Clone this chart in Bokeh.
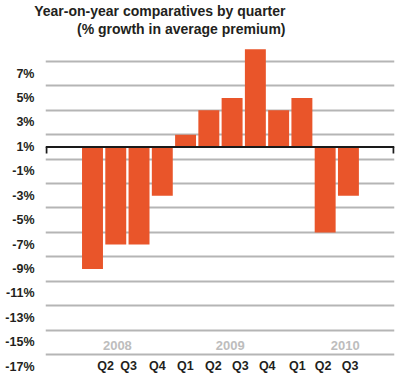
from bokeh.plotting import figure
from bokeh.models import FixedTicker, Span, Title, ColumnDataSource, Range1d
from bokeh.core.properties import value
from bokeh.embed import file_html
from bokeh.resources import INLINE

# ---- data ----
bar_values = [-9, -7, -7, -3, 2, 4, 5, 9, 4, 5, -6, -3]   # % growth (axis units)
baseline = 1
quarter_labels = ["Q2", "Q3", "Q4", "Q1", "Q2", "Q3", "Q4", "Q1", "Q2", "Q3"]
year_labels = ["2008", "2009", "2010"]
y_tick_values = [7, 5, 3, 1, -1, -3, -5, -7, -9, -11, -13, -15, -17]
grid_values = [8, 6, 4, 2, 0, -2, -4, -6, -8, -10, -12, -14, -16]
title_lines = ["Year-on-year comparatives by quarter", "(% growth in average premium)"]

# ---- layout (label positions in bar-index units) ----
quarter_pos = [0.56, 1.55, 2.79, 3.99, 5.19, 6.35, 7.51, 8.80, 9.91, 11.07]
quarter_y = -16.9
year_pos = [1.07, 5.92, 10.86]
year_y = -15.27
x_lo, x_hi = -2.02, 12.98
y_lo, y_hi = -17.8, 10.04

FONT = "Liberation Sans"
BAR = "#e9552a"
DARK = "#231f20"

p = figure(width=400, height=376, output_backend="svg", toolbar_location=None,
           x_range=Range1d(x_lo, x_hi), y_range=Range1d(y_lo, y_hi),
           x_axis_location=None, min_border_left=45, min_border_right=6,
           min_border_top=0, min_border_bottom=0)
p.outline_line_color = None
p.background_fill_color = "white"
p.border_fill_color = "white"

# title: two right-aligned lines (first added sits closest to the plot)
for txt, so in [(title_lines[1], 0), (title_lines[0], 0)]:
    p.add_layout(Title(text=txt, align="right", offset=109, standoff=so,
                       text_font=FONT, text_font_style="bold", text_font_size="14px",
                       text_color=DARK), "above")

p.xgrid.visible = False
p.ygrid.ticker = FixedTicker(ticks=grid_values)
p.ygrid.grid_line_color = "#b5b5b5"
p.ygrid.grid_line_width = 2

ax = p.yaxis[0]
ax.ticker = FixedTicker(ticks=y_tick_values)
ax.major_label_overrides = {v: f"{v}%" for v in y_tick_values}
ax.axis_line_color = None
ax.major_tick_line_color = None
ax.minor_tick_line_color = None
ax.major_label_standoff = 5
ax.major_label_text_font = FONT
ax.major_label_text_font_style = "bold"
ax.major_label_text_font_size = "12.5px"
ax.major_label_text_color = DARK

src = ColumnDataSource(dict(x=list(range(len(bar_values))), top=bar_values))
p.vbar(x="x", top="top", bottom=baseline, width=0.9, source=src,
       fill_color=BAR, line_color=None)

p.add_layout(Span(location=baseline, dimension="width", line_color="#1a1a1a", line_width=2))
p.segment(x0=[x_lo + 0.04, x_hi - 0.04], x1=[x_lo + 0.04, x_hi - 0.04],
          y0=[baseline, baseline], y1=[baseline - 0.55, baseline - 0.55],
          line_color="#1a1a1a", line_width=2)

p.text(x=quarter_pos, y=[quarter_y] * len(quarter_pos), text=quarter_labels,
       text_font=value(FONT), text_font_style="bold", text_font_size="12.5px",
       text_color=DARK, text_align="center", text_baseline="middle")
p.text(x=year_pos, y=[year_y] * len(year_pos), text=year_labels,
       text_font=value(FONT), text_font_style="bold", text_font_size="13px",
       text_color="#bdbdbd", text_align="center", text_baseline="middle")

open("out.html", "w").write(file_html(p, INLINE))
